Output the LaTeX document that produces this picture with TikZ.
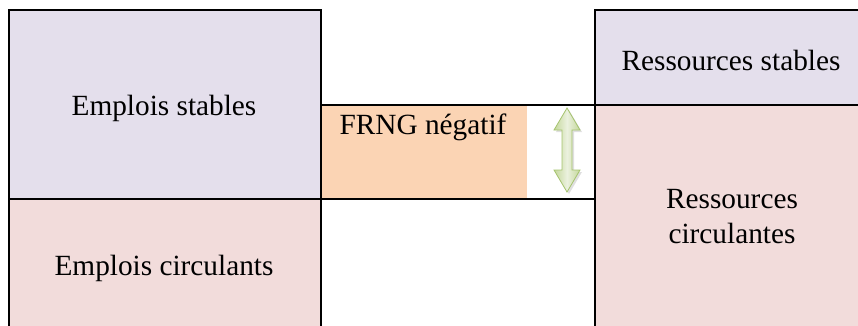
\documentclass[tikz,border=0pt]{standalone}
\usepackage{fontspec}
\setmainfont{Liberation Serif}
\usetikzlibrary{calc,shadows}

\definecolor{lavstab}{RGB}{228,223,236}
\definecolor{pinkcirc}{RGB}{242,220,219}
\definecolor{orangefr}{RGB}{251,212,180}
\definecolor{greenlt}{RGB}{235,241,222}
\definecolor{greendk}{RGB}{196,215,155}
\definecolor{greenln}{RGB}{165,195,110}

\tikzset{
  lbl/.style={anchor=base, inner sep=0pt, font=\fontsize{29.3}{35}\selectfont, align=center},
  updown/.style={draw=greenln, line width=0.8pt, left color=greendk, right color=greendk, middle color=greenlt,
                 drop shadow={opacity=0.25, shadow xshift=2pt, shadow yshift=-2pt}}
}

\begin{document}
\begin{tikzpicture}[x=1pt, y=-1pt, line width=1.2pt]
 \useasboundingbox (0,0) rectangle (858,326);

 % fills
 \fill[lavstab] (9,10) rectangle (321,199);
 \fill[pinkcirc] (9,199) rectangle (321,326);
 \fill[orangefr] (321,105) rectangle (527,199);
 \fill[lavstab] (595,10) rectangle (858,105);
 \fill[pinkcirc] (595,105) rectangle (858,326);

 % borders
 \draw (9,326) -- (9,10) -- (321,10) -- (321,326);
 \draw (9,199) -- (595,199);
 \draw (321,105) -- (858,105);
 \draw (595,326) -- (595,10) -- (858,10);

 % labels
 \foreach \name/\x/\y/\txt in {es/164/115/Emplois stables, ec/164/275/Emplois circulants,
                               fr/423/134/FRNG négatif, rs/731/71/Ressources stables} {
   \node[lbl] (\name) at (\x,\y) {\txt};
 }
 \node[lbl] (rc) at (732,243) {Ressources\\circulantes};

 % double arrow
 \coordinate (atop) at (567,108);
 \coordinate (abot) at (567,192);
 \draw[updown] (atop) -- ++(13,22) -- ++(-8,0) -- ($(abot)+(5,-22)$) -- ++(8,0) -- (abot)
   -- ++(-13,-22) -- ++(8,0) -- ($(atop)+(-5,22)$) -- ++(-8,0) -- cycle;
\end{tikzpicture}
\end{document}
